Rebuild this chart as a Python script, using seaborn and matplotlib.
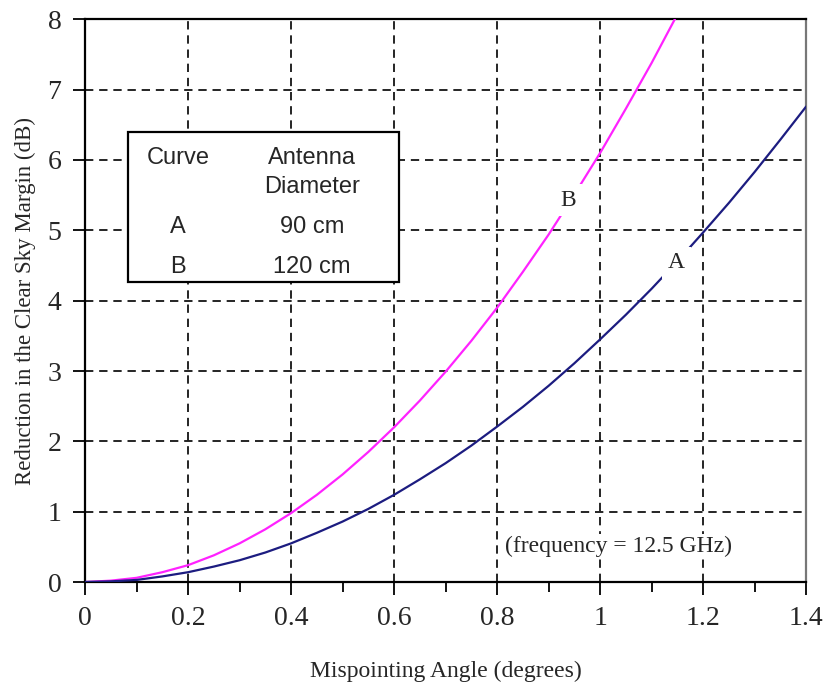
import seaborn as sns
import pandas as pd
import matplotlib.pyplot as plt
from matplotlib.patches import Rectangle
from matplotlib.ticker import MultipleLocator

# values
angle_a = [0, 0.05, 0.1, 0.15, 0.2, 0.25, 0.3, 0.35, 0.4, 0.45, 0.5, 0.55, 0.6, 0.65, 0.7,
           0.75, 0.8, 0.85, 0.9, 0.95, 1.0, 1.05, 1.1, 1.15, 1.2, 1.25, 1.3, 1.35, 1.4]
loss_a = [0, 0.01, 0.03, 0.08, 0.14, 0.22, 0.31, 0.42, 0.55, 0.70, 0.86, 1.04, 1.24, 1.46, 1.69,
          1.94, 2.21, 2.49, 2.79, 3.11, 3.45, 3.80, 4.17, 4.56, 4.97, 5.39, 5.83, 6.29, 6.76]
angle_b = [0, 0.05, 0.1, 0.15, 0.2, 0.25, 0.3, 0.35, 0.4, 0.45, 0.5, 0.55, 0.6, 0.65, 0.7,
           0.75, 0.8, 0.85, 0.9, 0.95, 1.0, 1.05, 1.1, 1.15]
loss_b = [0, 0.02, 0.06, 0.14, 0.24, 0.38, 0.55, 0.75, 0.98, 1.24, 1.53, 1.85, 2.2, 2.58, 2.99,
          3.43, 3.9, 4.41, 4.94, 5.51, 6.1, 6.73, 7.38, 8.07]

table_rows = [('A', '90 cm'), ('B', '120 cm')]
x_ticks = [0, 0.2, 0.4, 0.6, 0.8, 1.0, 1.2, 1.4]
x_tick_labels = ['0', '0.2', '0.4', '0.6', '0.8', '1', '1.2', '1.4']

sns.set_style('ticks')
plt.rcParams['font.family'] = ['Liberation Serif', 'DejaVu Serif']

df_a = pd.DataFrame({'angle': angle_a, 'loss': loss_a})
df_b = pd.DataFrame({'angle': angle_b, 'loss': loss_b})

fig = plt.figure(figsize=(8.26, 6.88), dpi=100)
ax = fig.add_axes([0.103, 0.154, 0.873, 0.818])

sns.lineplot(data=df_b, x='angle', y='loss', color='#ff22ff', linewidth=1.6, ax=ax, zorder=3)
sns.lineplot(data=df_a, x='angle', y='loss', color='#1c1c80', linewidth=1.6, ax=ax, zorder=3)

ax.set_xlim(0, 1.4)
ax.set_ylim(0, 8)
ax.set_xticks(x_ticks)
ax.set_xticklabels(x_tick_labels)
ax.xaxis.set_minor_locator(MultipleLocator(0.1))
ax.set_yticks(range(0, 9))
ax.tick_params(axis='both', which='major', labelsize=20, length=9, width=1.3, color='black', pad=8)
ax.tick_params(axis='x', which='minor', length=7, width=1.3, color='black')

for s in ax.spines.values():
    s.set_visible(True)
    s.set_linewidth(1.6)
    s.set_color('black')
ax.spines['right'].set_color('#777777')

ax.grid(True, which='major', color='black', linestyle=(0, (5, 3.5)), linewidth=1.2)

ax.set_xlabel('Mispointing Angle (degrees)', fontsize=17, labelpad=22)
ax.set_ylabel('Reduction in the Clear Sky Margin (dB)', fontsize=16.5, labelpad=8)

# table box
ax.add_patch(Rectangle((0.083, 4.27), 0.527, 2.13, facecolor='white', edgecolor='black',
                       linewidth=1.6, zorder=4))
sans = ['Liberation Sans', 'DejaVu Sans']
ax.text(0.181, 6.03, 'Curve', family=sans, fontsize=17, ha='center', va='center', zorder=5)
ax.text(0.44, 6.03, 'Antenna', family=sans, fontsize=17, ha='center', va='center', zorder=5)
ax.text(0.44, 5.62, 'Diameter', family=sans, fontsize=17, ha='center', va='center', zorder=5)
for i, (curve, diam) in enumerate(table_rows):
    yy = 5.04 - i * 0.56
    ax.text(0.181, yy, curve, family=sans, fontsize=17, ha='center', va='center', zorder=5)
    ax.text(0.44, yy, diam, family=sans, fontsize=17, ha='center', va='center', zorder=5)

# curve labels, with a white patch that breaks the line
lbl_box = dict(facecolor='white', edgecolor='none', pad=4)
ax.text(0.938, 5.43, 'B', fontsize=17, ha='center', va='center', bbox=lbl_box, zorder=5)
ax.text(1.148, 4.54, 'A', fontsize=17, ha='center', va='center', bbox=lbl_box, zorder=5)

ax.text(0.815, 0.51, '(frequency = 12.5 GHz)', fontsize=17, ha='left', va='center',
        bbox=dict(facecolor='white', edgecolor='none', pad=1), zorder=5)

fig.savefig('out.png', dpi=100)
